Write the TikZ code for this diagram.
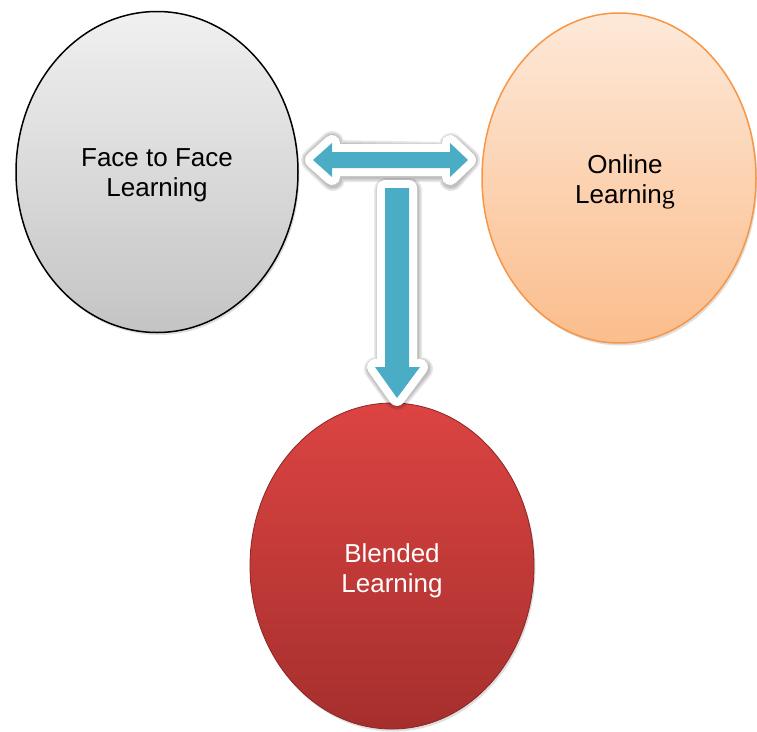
\documentclass[tikz,border=0pt]{standalone}
\usepackage{fontspec}
\setmainfont{Liberation Sans}
\newfontfamily\serifg{Liberation Serif}
\usetikzlibrary{shapes.geometric,shadows}
\definecolor{arrowblue}{HTML}{4BACC6}
\definecolor{graytop}{HTML}{F0F0F0}
\definecolor{graybot}{HTML}{C4C4C4}
\definecolor{orgtop}{HTML}{FDE9D9}
\definecolor{orgbot}{HTML}{FBBD8C}
\definecolor{orgline}{HTML}{F79646}
\definecolor{redtop}{HTML}{DC4442}
\definecolor{redbot}{HTML}{A52F2D}
\definecolor{redline}{HTML}{8A2624}
\tikzset{
  bubble/.style={ellipse, inner sep=0pt, draw, line width=1.5pt,
    drop shadow={opacity=0.25, shadow xshift=1.5pt, shadow yshift=-2.5pt}},
  label text/.style={align=center, font=\fontsize{26}{30}\selectfont, inner sep=0pt},
  arrow outline/.style={draw=white, fill=white, line width=16pt, line join=round},
  arrow shade/.style={draw=black, fill=black, line join=round, opacity=0.09},
  arrow body/.style={fill=arrowblue, draw=none}
}
\begin{document}
\begin{tikzpicture}[x=1pt,y=-1pt]
\useasboundingbox (0,0) rectangle (757,731);
% ellipses
\node[bubble, draw=black, top color=graytop, bottom color=graybot,
  minimum width=282pt, minimum height=321pt] (f2f) at (157,172) {};
\node[bubble, draw=orgline, top color=orgtop, bottom color=orgbot,
  minimum width=274pt, minimum height=330pt] (onl) at (619,178) {};
\node[bubble, draw=redline, line width=0.8pt, top color=redtop, bottom color=redbot,
  minimum width=284pt, minimum height=326pt] (bl) at (392,566) {};
% texts
\node[label text, text=black] (f2ft) at (157,175.5) {Face to Face\\Learning};
\node[label text, text=black] (onlt) at (625,181.5) {Online\\Learnin{\serifg g}};
\node[label text, text=white] (blt) at (392,570.5) {Blended\\Learning};
% horizontal double arrow
\coordinate (hl) at (313,160);
\coordinate (hr) at (468,160);
\foreach \w in {24,21,18}{
\begin{scope}[shift={(1,2)}]
\path[arrow shade, line width=\w pt] (hl) -- ++(19,-17) -- ++(0,9) -- (450,152) -- (450,143) -- (hr)
  -- (450,177) -- (450,168) -- (332,168) -- (332,177) -- cycle;
\end{scope}}
\path[arrow outline] (hl) -- ++(19,-17) -- ++(0,9) -- (450,152) -- (450,143) -- (hr)
  -- (450,177) -- (450,168) -- (332,168) -- (332,177) -- cycle;
\path[arrow body] (hl) -- ++(19,-17) -- ++(0,9) -- (450,152) -- (450,143) -- (hr)
  -- (450,177) -- (450,168) -- (332,168) -- (332,177) -- cycle;
% vertical arrow
\coordinate (vt) at (397,188);
\coordinate (vb) at (397,398);
\foreach \w in {24,21,18}{
\begin{scope}[shift={(1,2)}]
\path[arrow shade, line width=\w pt] (385,188) -- (409,188) -- (409,367) -- (420,367) -- (vb)
  -- (375,367) -- (385,367) -- cycle;
\end{scope}}
\path[arrow outline] (385,188) -- (409,188) -- (409,367) -- (420,367) -- (vb)
  -- (375,367) -- (385,367) -- cycle;
\path[arrow body] (385,188) -- (409,188) -- (409,367) -- (420,367) -- (vb)
  -- (375,367) -- (385,367) -- cycle;
\end{tikzpicture}
\end{document}
